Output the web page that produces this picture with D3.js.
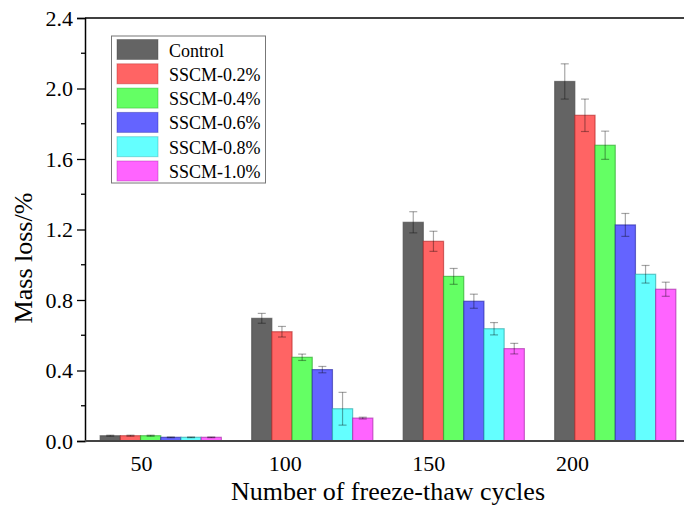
<!DOCTYPE html>
<html>
<head>
<meta charset="utf-8">
<script src="https://cdn.jsdelivr.net/npm/d3@7"></script>
<style>
body { margin: 0; background: #fff; }
text { font-family: "Liberation Serif", "Times New Roman", serif; fill: #000; }
</style>
</head>
<body>
<script>
// data
var cycles = ["50", "100", "150", "200"];
var cycleValues = [50, 100, 150, 200];
var seriesNames = ["Control", "SSCM-0.2%", "SSCM-0.4%", "SSCM-0.6%", "SSCM-0.8%", "SSCM-1.0%"];
var control = [0.030, 0.696, 1.241, 2.040];
var sscm02 = [0.030, 0.620, 1.133, 1.848];
var sscm04 = [0.030, 0.475, 0.934, 1.678];
var sscm06 = [0.021, 0.405, 0.793, 1.226];
var sscm08 = [0.021, 0.183, 0.637, 0.946];
var sscm10 = [0.021, 0.130, 0.524, 0.861];
var errControl = [0.003, 0.028, 0.060, 0.100];
var err02 = [0.003, 0.030, 0.057, 0.092];
var err04 = [0.003, 0.018, 0.045, 0.080];
var err06 = [0.002, 0.018, 0.040, 0.065];
var err08 = [0.002, 0.093, 0.035, 0.050];
var err10 = [0.002, 0.005, 0.030, 0.040];
var yTicks = [0, 0.4, 0.8, 1.2, 1.6, 2.0, 2.4];

var values = [control, sscm02, sscm04, sscm06, sscm08, sscm10];
var errors = [errControl, err02, err04, err06, err08, err10];
var fills = ["#646464", "#ff6464", "#64ff64", "#6464ff", "#64ffff", "#ff64ff"];
var strokes = ["#444444", "#b02020", "#20a020", "#2020a0", "#20a0a0", "#a020a0"];

//Width and height
var w = 684, h = 506;
var plotLeft = 85, plotTop = 18, plotBottom = 441;

var svg = d3.select("body")
	.append("svg")
	.attr("width", w)
	.attr("height", h);

// scales
var x0 = d3.scaleBand()
	.domain(cycles)
	.range([plotLeft, 691])
	.paddingInner(0.2)
	.paddingOuter(0.1);

var x1 = d3.scaleBand()
	.domain(seriesNames)
	.range([0, x0.bandwidth()]);

var y = d3.scaleLinear()
	.domain([0, 2.4])
	.range([plotBottom, plotTop]);

// labels of the x axis sit a bit left of the groups in the original
var xLab = d3.scaleLinear()
	.domain([50, 200])
	.range([141, 572]);

// bars
var rows = [];
cycles.forEach(function(c, i) {
	seriesNames.forEach(function(s, j) {
		rows.push({ c: c, s: s, j: j, v: values[j][i], e: errors[j][i] });
	});
});

svg.append("g").selectAll("rect")
	.data(rows)
	.enter()
	.append("rect")
	.attr("x", function(d) { return x0(d.c) + x1(d.s); })
	.attr("y", function(d) { return y(d.v); })
	.attr("width", x1.bandwidth())
	.attr("height", function(d) { return y(0) - y(d.v); })
	.style("fill", function(d) { return fills[d.j]; })
	.style("stroke", function(d) { return strokes[d.j]; })
	.style("stroke-opacity", 0.6)
	.style("stroke-width", 1.2);

// error bars
var eb = svg.append("g")
	.selectAll("g")
	.data(rows)
	.enter()
	.append("g")
	.style("stroke", "#000")
	.style("stroke-opacity", 0.35)
	.style("stroke-width", 1.2);

eb.append("line")
	.attr("x1", function(d) { return x0(d.c) + x1(d.s) + x1.bandwidth() / 2; })
	.attr("x2", function(d) { return x0(d.c) + x1(d.s) + x1.bandwidth() / 2; })
	.attr("y1", function(d) { return y(d.v - d.e); })
	.attr("y2", function(d) { return y(d.v + d.e); });

[1, -1].forEach(function(sg) {
	eb.append("line")
		.attr("x1", function(d) { return x0(d.c) + x1(d.s) + x1.bandwidth() / 2 - 4; })
		.attr("x2", function(d) { return x0(d.c) + x1(d.s) + x1.bandwidth() / 2 + 4; })
		.attr("y1", function(d) { return y(d.v + sg * d.e); })
		.attr("y2", function(d) { return y(d.v + sg * d.e); });
});

// y axis
var yAxis = d3.axisLeft(y)
	.tickValues(yTicks)
	.tickSize(8)
	.tickPadding(4)
	.tickFormat(d3.format(".1f"));

var gy = svg.append("g")
	.attr("transform", "translate(" + plotLeft + ",0)")
	.call(yAxis);
gy.select(".domain").attr("stroke", "#000").attr("stroke-width", 1.5);
gy.selectAll(".tick line").attr("stroke-width", 1.3);
gy.selectAll("text").style("font-family", "Liberation Serif").style("font-size", "22px").attr("fill", "#000");

// minor ticks
svg.append("g").selectAll("line")
	.data(d3.range(0.2, 2.4, 0.4))
	.enter()
	.append("line")
	.attr("x1", plotLeft - 4)
	.attr("x2", plotLeft)
	.attr("y1", function(d) { return y(d); })
	.attr("y2", function(d) { return y(d); })
	.style("stroke", "#000")
	.style("stroke-width", 1.3);

// top border
svg.append("line")
	.attr("x1", plotLeft)
	.attr("x2", w)
	.attr("y1", y(2.4))
	.attr("y2", y(2.4))
	.style("stroke", "#000")
	.style("stroke-width", 1.5);

// x axis line
svg.append("line")
	.attr("x1", plotLeft)
	.attr("x2", w)
	.attr("y1", y(0))
	.attr("y2", y(0))
	.style("stroke", "#444")
	.style("stroke-width", 2);

// x labels
var xAxis = d3.axisBottom(xLab)
	.tickValues(cycleValues)
	.tickSize(0)
	.tickPadding(14)
	.tickFormat(d3.format("d"));

var gx = svg.append("g")
	.attr("transform", "translate(0," + plotBottom + ")")
	.call(xAxis);
gx.select(".domain").remove();
gx.selectAll("text").style("font-family", "Liberation Serif").style("font-size", "22px").attr("fill", "#000");

// axis titles
svg.append("text")
	.attr("x", 388)
	.attr("y", 500)
	.attr("text-anchor", "middle")
	.style("font-size", "26px")
	.text("Number of freeze-thaw cycles");

svg.append("text")
	.attr("transform", "translate(32,258) rotate(-90)")
	.attr("text-anchor", "middle")
	.style("font-size", "26px")
	.text("Mass loss/%");

//Create Legend
var legend = svg.append("g");

legend.append("rect")
	.attr("x", 111.5)
	.attr("y", 36)
	.attr("width", 154)
	.attr("height", 147)
	.style("fill", "#fff")
	.style("stroke", "#777")
	.style("stroke-width", 1);

legend.selectAll(".sw")
	.data(seriesNames)
	.enter()
	.append("rect")
	.attr("class", "sw")
	.attr("x", 117)
	.attr("y", function(d, i) { return 39.5 + i * 24.3; })
	.attr("width", 41)
	.attr("height", 20)
	.style("fill", function(d, i) { return fills[i]; })
	.style("stroke", function(d, i) { return strokes[i]; })
	.style("stroke-opacity", 0.4);

legend.selectAll(".lt")
	.data(seriesNames)
	.enter()
	.append("text")
	.attr("class", "lt")
	.attr("x", 169)
	.attr("y", function(d, i) { return 56.5 + i * 24.3; })
	.style("font-size", "18px")
	.text(function(d) { return d; });
</script>
</body>
</html>
